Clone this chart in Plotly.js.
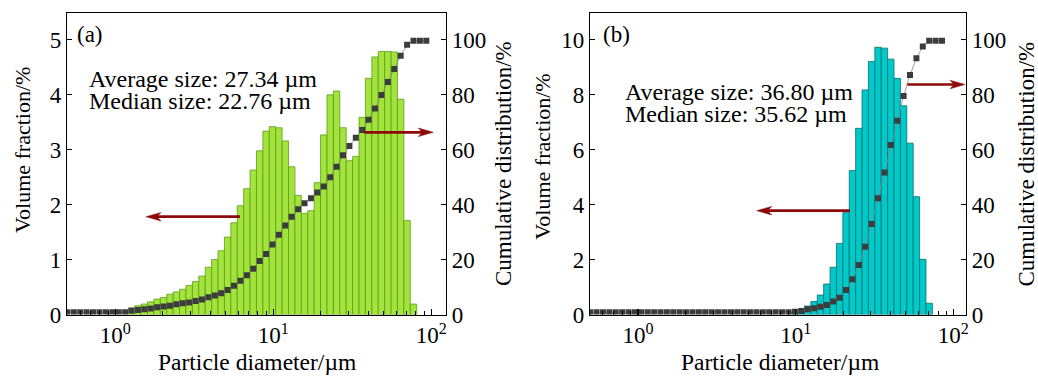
<!DOCTYPE html>
<html>
<head>
<meta charset="utf-8">
<script src="https://cdn.plot.ly/plotly-3.0.1.min.js"></script>
<style>
  html, body { margin: 0; padding: 0; background: #fff; }
  #chart { width: 1038px; height: 380px; }
</style>
</head>
<body>
<div id="chart"></div>
<script>
// Lower/upper bounds of the size channels (µm), log-spaced.
const channelEdges = [0.4750, 0.5216, 0.5727, 0.6288, 0.6903, 0.7578, 0.8320, 0.9134, 1.0028, 1.1009,
  1.2087, 1.3270, 1.4569, 1.5996, 1.7560, 1.9279, 2.1169, 2.3238, 2.5515, 2.8010,
  3.0753, 3.3766, 3.7068, 4.0698, 4.4678, 4.9055, 5.3864, 5.9130, 6.4921, 7.1269,
  7.8251, 8.5919, 9.4319, 10.356, 11.368, 12.482, 13.706, 15.045, 16.520, 18.135,
  19.912, 21.864, 24.002, 26.354, 28.929, 31.765, 34.880, 38.282, 42.036, 46.141,
  50.665, 55.631, 61.065, 67.054, 73.607, 80.822, 88.748, 97.409];

// Powder (a): volume fraction per channel (%) and cumulative distribution (%).
const volumeA = [null, null, null, null, null, null, null, null, null, null,
  0.12, 0.16, 0.19, 0.23, 0.28, 0.31, 0.37, 0.41, 0.46, 0.53,
  0.60, 0.70, 0.86, 1.00, 1.16, 1.41, 1.67, 1.98, 2.29, 2.63,
  2.98, 3.34, 3.42, 3.40, 3.16, 2.69, 2.17, 1.84, 1.89, 2.40,
  3.27, 4.00, 4.07, 3.40, 2.80, 2.88, 3.59, 4.30, 4.69, 4.79,
  4.79, 4.78, 3.92, 1.71, 0.19, null, null];
const cumulativeA = [0.8, 0.8, 0.8, 0.8, 0.8, 0.8, 0.8, 0.8, 0.8, 0.8,
  1.4, 1.6, 1.9, 2.2, 2.6, 2.9, 3.2, 3.7, 4.1, 4.4,
  4.9, 5.5, 6.3, 6.9, 7.7, 8.9, 10.5, 12.3, 14.3, 16.7,
  19.5, 22.0, 25.5, 29.0, 32.4, 35.6, 38.3, 40.5, 42.3, 44.4,
  46.6, 50.0, 53.8, 58.0, 61.4, 64.4, 67.2, 70.9, 75.0, 79.9,
  84.7, 89.4, 94.2, 98.2, 99.7, 99.7, 99.7];

// Powder (b)
const volumeB = [null, null, null, null, null, null, null, null, null, null,
  null, null, null, null, null, null, null, null, null, null,
  null, null, null, null, null, null, null, null, null, null,
  null, null, 0.10, 0.19, 0.31, 0.47, 0.71, 1.11, 1.72, 2.59,
  3.71, 5.24, 6.78, 8.18, 9.21, 9.73, 9.70, 9.30, 8.60, 7.60,
  6.24, 4.29, 2.01, 0.41, null, null, null];
const cumulativeB = [0.8, 0.8, 0.8, 0.8, 0.8, 0.8, 0.8, 0.8, 0.8, 0.8,
  0.8, 0.8, 0.8, 0.8, 0.8, 0.8, 0.8, 0.8, 0.8, 0.8,
  0.8, 0.8, 0.8, 0.8, 0.8, 0.8, 0.8, 0.8, 0.8, 0.8,
  0.8, 0.8, 1.0, 1.3, 1.9, 2.3, 2.8, 3.5, 4.7, 6.1,
  8.9, 12.8, 18.0, 24.7, 33.0, 42.3, 51.7, 61.7, 70.6, 79.6,
  87.2, 93.3, 97.6, 99.7, 99.7, 99.7, null];

const panelLabels = ['(a)', '(b)'];
const averageSize = [27.34, 36.80];
const medianSize = [22.76, 35.62];
const xTickVals = [1, 10, 100];
const xTickText = ['10<sup>0</sup>', '10<sup>1</sup>', '10<sup>2</sup>'];
const xMinorVals = [0.6, 0.7, 0.8, 0.9, 2, 3, 4, 5, 6, 7, 8, 9, 20, 30, 40, 50, 60, 70, 80, 90];

const W = 1038, H = 380;
const px = x => x / W;
const py = y => 1 - y / H;
const FONT = 'Liberation Serif';

function barTrace(values, fill, edge, xa, ya) {
  const x = [], y = [], w = [];
  values.forEach((v, i) => {
    if (v === null) return;
    x.push(channelEdges[i]);
    w.push(channelEdges[i + 1] - channelEdges[i]);
    y.push(v);
  });
  return {
    type: 'bar', x: x, y: y, width: w, offset: 0, xaxis: xa, yaxis: ya,
    marker: { color: fill, line: { color: edge, width: 0.8 } },
    hoverinfo: 'skip', showlegend: false
  };
}

function cumulativeTrace(values, xa, ya) {
  const x = [], y = [];
  values.forEach((v, i) => {
    if (v === null) return;
    x.push(Math.sqrt(channelEdges[i] * channelEdges[i + 1]));
    y.push(v);
  });
  return {
    type: 'scatter', mode: 'lines+markers', x: x, y: y, xaxis: xa, yaxis: ya,
    line: { color: '#8a8a8a', width: 0.8 },
    marker: { symbol: 'square', size: 6, color: '#3c3c3c' },
    hoverinfo: 'skip', showlegend: false
  };
}

const data = [
  barTrace(volumeA, '#a3e43c', '#5e9c1e', 'x', 'y'),
  cumulativeTrace(cumulativeA, 'x', 'y2'),
  barTrace(volumeB, '#00c9c9', '#0a6e6e', 'x2', 'y3'),
  cumulativeTrace(cumulativeB, 'x2', 'y4')
];

const tickFont = { family: FONT, size: 23, color: '#000' };
const yDomain = [py(314.5), py(13)];

function xAxis(domain, range, anchor) {
  return {
    type: 'log', domain: domain, range: range, anchor: anchor,
    showline: true, mirror: true, linecolor: '#000', linewidth: 1.2,
    showgrid: false, zeroline: false,
    ticks: 'inside', ticklen: 6, tickwidth: 1.1, tickcolor: '#000',
    tickmode: 'array', tickvals: xTickVals, ticktext: xTickText,
    tickfont: tickFont,
    minor: { tickmode: 'array', tickvals: xMinorVals, ticks: 'inside', ticklen: 3.5, tickwidth: 1, tickcolor: '#000', showgrid: false }
  };
}
function yAxis(range, dtick, anchor, side, overlaying) {
  const ax = {
    domain: yDomain, range: range, anchor: anchor, side: side,
    showline: true, linecolor: '#000', linewidth: 1.2,
    showgrid: false, zeroline: false,
    ticks: 'inside', ticklen: 5, tickwidth: 1.1, tickcolor: '#000',
    tick0: 0, dtick: dtick, tickfont: tickFont
  };
  if (overlaying) ax.overlaying = overlaying;
  return ax;
}

function textNote(text, x, y, size, xanchor, angle) {
  return {
    xref: 'paper', yref: 'paper', x: px(x), y: py(y), text: text,
    xanchor: xanchor, yanchor: 'middle', showarrow: false,
    textangle: angle || 0, font: { family: FONT, size: size, color: '#000' }
  };
}

// Arrows: thin shaft plus a notched head, in page pixels.
function arrowShapes(tailX, tipX, y) {
  const dir = Math.sign(tipX - tailX);
  const len = 15, half = 4.3, notch = 4;
  const back = tipX - dir * len;
  const notchX = back + dir * notch;
  const color = '#8c0a0a';
  return [
    { type: 'line', xref: 'paper', yref: 'paper', x0: px(tailX), x1: px(notchX + dir), y0: py(y), y1: py(y),
      line: { color: color, width: 2.7 } },
    { type: 'path', xref: 'paper', yref: 'paper', fillcolor: color, line: { color: color, width: 0.5 },
      path: 'M' + px(tipX) + ',' + py(y) + ' L' + px(back) + ',' + py(y - half) +
            ' L' + px(notchX) + ',' + py(y) + ' L' + px(back) + ',' + py(y + half) + ' Z' }
  ];
}

const layout = {
  width: W, height: H,
  margin: { l: 0, r: 0, t: 0, b: 0 },
  paper_bgcolor: '#fff', plot_bgcolor: 'rgba(0,0,0,0)',
  showlegend: false, hovermode: false,
  font: { family: FONT, size: 22, color: '#000' },
  xaxis: xAxis([px(67), px(446)], [-0.3057, 2.093], 'y'),
  yaxis: yAxis([0, 5.49], 1, 'x', 'left'),
  yaxis2: yAxis([0, 109.8], 20, 'x', 'right', 'y'),
  xaxis2: xAxis([px(590), px(966)], [-0.304, 2.080], 'y3'),
  yaxis3: yAxis([0, 10.98], 2, 'x2', 'left'),
  yaxis4: yAxis([0, 109.8], 20, 'x2', 'right', 'y3'),
  annotations: [
    textNote(panelLabels[0], 89.5, 34, 23, 'center'),
    textNote('Average size: ' + averageSize[0].toFixed(2) + ' µm', 87, 79, 24, 'left'),
    textNote('Median size: ' + medianSize[0].toFixed(2) + ' µm', 87, 101, 24, 'left'),
    textNote(panelLabels[1], 616.7, 34, 23, 'center'),
    textNote('Average size: ' + averageSize[1].toFixed(2) + ' µm', 623, 92, 24, 'left'),
    textNote('Median size: ' + medianSize[1].toFixed(2) + ' µm', 623, 114, 24, 'left'),
    textNote('Volume fraction/%', 22, 150, 22, 'center', -90),
    textNote('Cumulative distribution/%', 503, 164, 23, 'center', -90),
    textNote('Volume fraction/%', 541.7, 157, 22, 'center', -90),
    textNote('Cumulative distribution/%', 1025.5, 164, 23, 'center', -90),
    textNote('Particle diameter/µm', 256.7, 362, 23.5, 'center'),
    textNote('Particle diameter/µm', 780, 362, 23.5, 'center')
  ],
  shapes: [].concat(
    arrowShapes(240, 146, 216.7),
    arrowShapes(364, 433.3, 132.3),
    arrowShapes(850, 756.7, 210.7),
    arrowShapes(907.3, 965, 84.5)
  )
};

Plotly.newPlot('chart', data, layout, { staticPlot: true, displayModeBar: false });
</script>
</body>
</html>
